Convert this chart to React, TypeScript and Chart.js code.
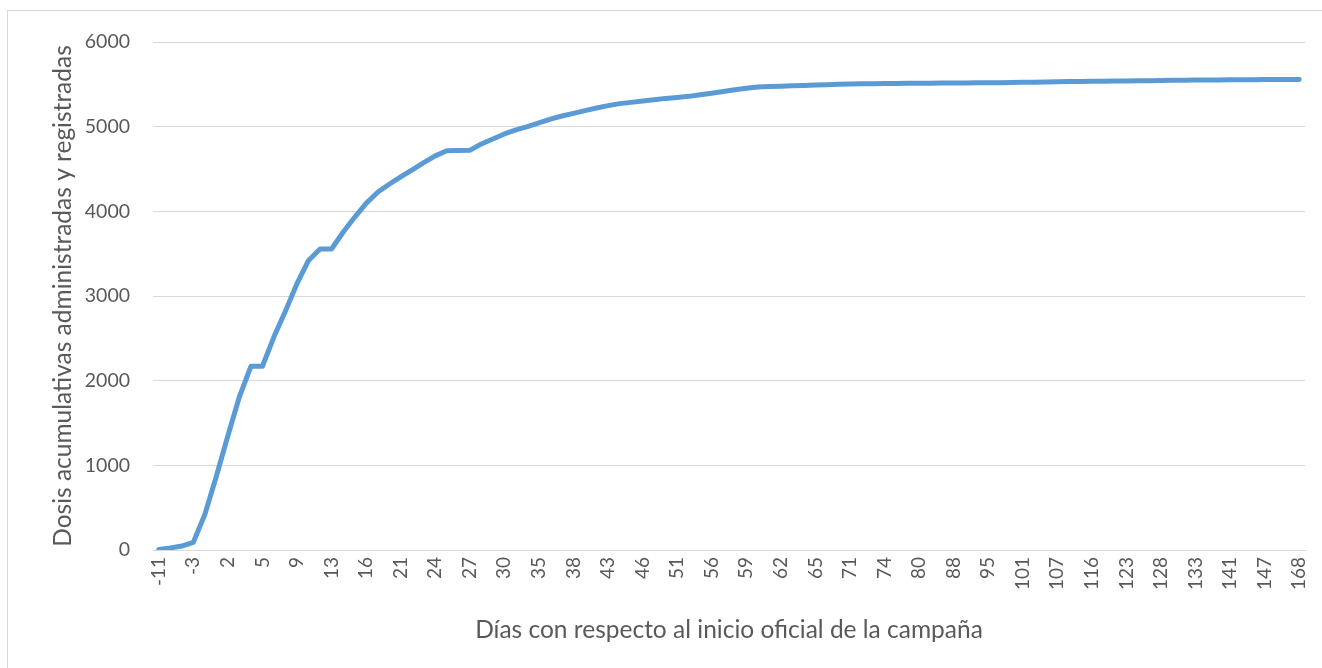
import React, { useEffect, useRef } from "react";
import { Chart, registerables } from "chart.js";

Chart.register(...registerables);

const days: number[] = [
  -11, -7, -5, -3, 0, 1, 2, 3, 4, 5,
  6, 7, 9, 10, 11, 13, 14, 15, 16, 17,
  19, 21, 22, 23, 24, 25, 26, 27, 28, 29,
  30, 31, 34, 35, 36, 37, 38, 40, 42, 43,
  44, 45, 46, 48, 50, 51, 52, 54, 56, 57,
  58, 59, 60, 61, 62, 63, 64, 65, 67, 69,
  71, 72, 73, 74, 77, 78, 80, 83, 86, 88,
  91, 93, 95, 97, 99, 101, 103, 105, 107, 110,
  113, 116, 119, 121, 123, 125, 126, 128, 130, 131,
  133, 135, 138, 141, 143, 145, 147, 152, 159, 168,
];

const doses: number[] = [
  5, 24, 47, 90, 420, 870, 1350, 1810, 2170, 2170,
  2518, 2824, 3146, 3420, 3555, 3555, 3753, 3929, 4094, 4225,
  4320, 4408, 4490, 4576, 4655, 4715, 4718, 4720, 4796, 4855,
  4914, 4961, 5000, 5045, 5090, 5126, 5157, 5189, 5221, 5248,
  5272, 5287, 5303, 5318, 5334, 5345, 5358, 5376, 5394, 5415,
  5435, 5453, 5468, 5474, 5478, 5483, 5487, 5492, 5496, 5501,
  5505, 5507, 5508, 5510, 5511, 5512, 5513, 5514, 5515, 5516,
  5517, 5518, 5519, 5520, 5522, 5524, 5526, 5528, 5530, 5532,
  5534, 5536, 5537, 5539, 5540, 5542, 5543, 5545, 5547, 5549,
  5550, 5551, 5552, 5553, 5554, 5555, 5556, 5557, 5557, 5558,
];

const labelEvery = 3;
const yMin = 0;
const yMax = 6000;
const yStep = 1000;
const xTitle = "Días con respecto al inicio oficial de la campaña";
const yTitle = "Dosis acumulativas administradas y registradas";

const FONT = "Lato, 'Open Sans', sans-serif";
const TEXT = "#595959";
const GRID = "#d9d9d9";

export default function App() {
  const ref = useRef<HTMLCanvasElement | null>(null);

  useEffect(() => {
    if (!ref.current) return;
    const chart = new Chart(ref.current, {
      type: "line",
      data: {
        labels: days.map(String),
        datasets: [
          {
            data: doses,
            borderColor: "#5b9bd5",
            backgroundColor: "#5b9bd5",
            borderWidth: 5,
            pointRadius: 0,
            pointHoverRadius: 0,
            tension: 0,
            fill: false,
            borderCapStyle: "round",
            borderJoinStyle: "round",
          },
        ],
      },
      options: {
        animation: false,
        responsive: false,
        devicePixelRatio: 1,
        layout: { padding: { left: 40, right: 17, top: 42, bottom: 0 } },
        plugins: {
          legend: { display: false },
          tooltip: { enabled: false },
        },
        scales: {
          x: {
            type: "category",
            offset: true,
            grid: { display: false, drawTicks: false },
            border: { display: true, color: GRID, width: 1 },
            ticks: {
              autoSkip: false,
              minRotation: 90,
              maxRotation: 90,
              padding: 7,
              color: TEXT,
              font: { family: FONT, size: 19 },
              callback: (_v: any, i: number) => (i % labelEvery === 0 ? String(days[i]) : ""),
            },
            title: {
              display: true,
              text: xTitle,
              color: TEXT,
              font: { family: FONT, size: 24.5 },
              padding: { top: 0, bottom: 23 },
            },
            afterFit: (s: any) => {
              s.height = 118;
              s.paddingLeft = 0;
              s.paddingRight = 0;
            },
          },
          y: {
            min: yMin,
            max: yMax,
            grid: { color: GRID, lineWidth: 1, drawTicks: false },
            border: { display: false },
            ticks: {
              stepSize: yStep,
              padding: 23,
              color: TEXT,
              font: { family: FONT, size: 19.5 },
              callback: (v: any) => String(v),
            },
            title: {
              display: true,
              text: yTitle,
              color: TEXT,
              font: { family: FONT, size: 24.5 },
              padding: { top: 8, bottom: 0 },
            },
            afterFit: (s: any) => {
              s.width = 113;
              s.paddingTop = 0;
              s.paddingBottom = 0;
            },
          },
        },
      },
    });
    return () => chart.destroy();
  }, []);

  return (
    <div
      style={{
        position: "fixed",
        left: 0,
        top: 0,
        width: 1322,
        height: 668,
        overflow: "hidden",
        background: "#ffffff",
      }}
    >
      <div
        style={{
          position: "absolute",
          left: 7,
          top: 10,
          width: 1340,
          height: 700,
          border: `1px solid ${GRID}`,
          boxSizing: "border-box",
        }}
      />
      <canvas
        ref={ref}
        width={1322}
        height={668}
        style={{ position: "absolute", left: 0, top: 0, width: 1322, height: 668 }}
      />
    </div>
  );
}
